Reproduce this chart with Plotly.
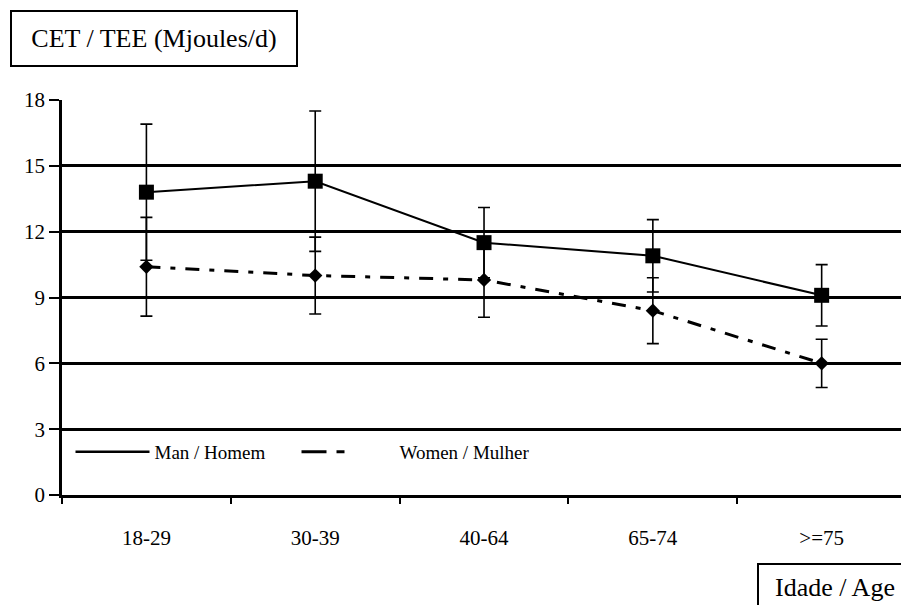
import plotly.graph_objects as go

categories = ["18-29", "30-39", "40-64", "65-74", ">=75"]
men_mean = [13.8, 14.3, 11.5, 10.9, 9.1]
men_sd = [3.1, 3.2, 1.6, 1.65, 1.4]
women_mean = [10.4, 10.0, 9.8, 8.4, 6.0]
women_sd = [2.25, 1.75, 1.7, 1.5, 1.1]
yticks = [0, 3, 6, 9, 12, 15, 18]

FONT = "Liberation Serif"
W, H = 901, 605
L, T, B, R = 62, 100, 110, 0
PW, PH = W - L - R, H - T - B

fig = go.Figure()

fig.add_trace(go.Scatter(
    x=categories, y=men_mean, mode="lines+markers", showlegend=False,
    line=dict(color="black", width=2),
    marker=dict(symbol="square", size=15, color="black"),
    error_y=dict(type="data", array=men_sd, visible=True, color="black", thickness=1.6, width=6),
))
fig.add_trace(go.Scatter(
    x=categories, y=women_mean, mode="lines+markers", showlegend=False,
    line=dict(color="black", width=3, dash="14px,10px,5px,10px"),
    marker=dict(symbol="diamond", size=11, color="black"),
    error_y=dict(type="data", array=women_sd, visible=True, color="black", thickness=1.6, width=6),
))

# legend entries (line samples only)
fig.add_trace(go.Scatter(
    x=[None], y=[None], mode="lines", name="Man / Homem", legend="legend",
    line=dict(color="black", width=2.5),
))
fig.add_trace(go.Scatter(
    x=[None], y=[None], mode="lines", name="Women / Mulher", legend="legend2",
    line=dict(color="black", width=3, dash="25px,10px,8px,200px"),
))

fig.update_layout(
    width=W, height=H,
    margin=dict(l=L, r=R, t=T, b=B),
    paper_bgcolor="white", plot_bgcolor="white",
    font=dict(family=FONT, color="black", size=15),
    xaxis=dict(
        type="category", categoryorder="array", categoryarray=categories,
        range=[-0.5, 4.47], tickson="boundaries", ticks="outside", ticklen=6,
        tickwidth=1.5, tickcolor="black", showgrid=False, showline=True,
        linecolor="black", linewidth=2.5, ticklabelstandoff=22,
        tickfont=dict(family=FONT, size=21),
    ),
    yaxis=dict(
        range=[0, 18], tickvals=yticks, ticks="outside", ticklen=10, tickwidth=1.5,
        tickcolor="black", showgrid=True, gridcolor="black", gridwidth=2.5,
        showline=True, linecolor="black", linewidth=2.5, zeroline=False,
        tickfont=dict(family=FONT, size=21), fixedrange=True,
    ),
    legend=dict(
        x=(70.5 - L) / PW, y=(H - B - 452) / PH, xanchor="left", yanchor="middle",
        bgcolor="rgba(0,0,0,0)", itemwidth=74,
        font=dict(family=FONT, size=19),
    ),
    legend2=dict(
        x=(296.5 - L) / PW, y=(H - B - 452) / PH, xanchor="left", yanchor="middle",
        bgcolor="rgba(0,0,0,0)", itemwidth=93,
        font=dict(family=FONT, size=19),
    ),
    annotations=[
        dict(
            text="CET / TEE (Mjoules/d)", xref="paper", yref="paper",
            x=(10 - L) / PW, y=(H - B - 10) / PH, xanchor="left", yanchor="top",
            showarrow=False, font=dict(family=FONT, size=26, color="black"),
            bordercolor="black", borderwidth=2, borderpad=4,
            width=276, height=45, align="center",
        ),
        dict(
            text="Idade / Age", xref="paper", yref="paper",
            x=(757 - L) / PW, y=(H - B - 563) / PH, xanchor="left", yanchor="top",
            showarrow=False, font=dict(family=FONT, size=26, color="black"),
            bordercolor="black", borderwidth=2, borderpad=4,
            width=144, height=36, align="center",
        ),
    ],
)

fig.write_html(
    "out.html",
    config={"displayModeBar": False},
    post_script="document.body.style.margin='0';document.body.style.overflow='hidden';",
)
